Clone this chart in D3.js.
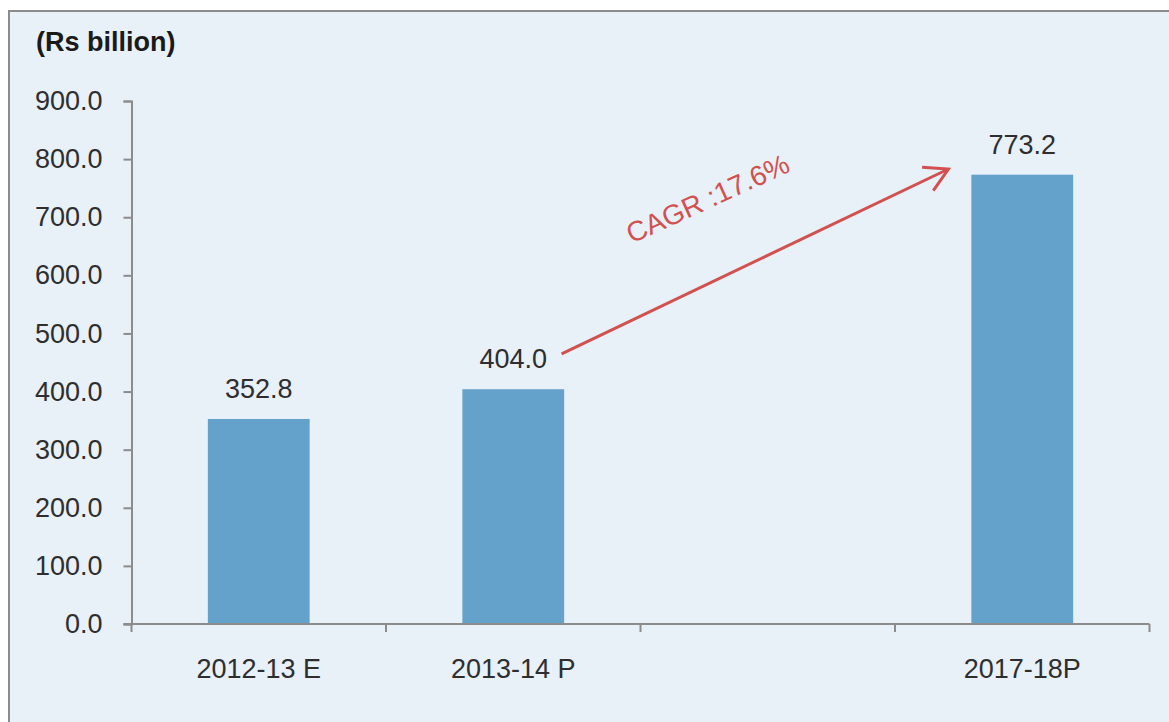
<!DOCTYPE html>
<html>
<head>
<meta charset="utf-8">
<script src="https://cdn.jsdelivr.net/npm/d3@7"></script>
<style>
  html, body { margin: 0; padding: 0; background: #ffffff; }
  svg { display: block; }
  text { font-family: "Liberation Sans", Arial, sans-serif; }
</style>
</head>
<body>
<svg id="chart" width="1169" height="722"></svg>
<script>
// ---- data ----
const categories = ["2012-13 E", "2013-14 P", "", "2017-18P"];
const values = [352.8, 404.0, null, 773.2];
const yTicks = [0, 100, 200, 300, 400, 500, 600, 700, 800, 900];
const unitLabel = "(Rs billion)";
const cagrLabel = "CAGR :17.6%";
// arrow annotation in data units (category position index, value)
const arrowFrom = [1.69, 465];
const arrowTo = [3.21, 783];
const cagrPos = [2.28, 717];

// ---- layout ----
const W = 1169, H = 722;
const plot = { left: 131.5, right: 1149.5, top: 101, bottom: 624 };
const colors = { bg: "#E8F0F8", border: "#8C8C8C", bar: "#65A2CB", axis: "#8C8C8C", text: "#2E2E2E", red: "#D2504D" };

const svg = d3.select("#chart");

svg.append("rect").attr("x", 0).attr("y", 0).attr("width", W).attr("height", H).attr("fill", "#fff");
svg.append("rect").attr("x", 9).attr("y", 11).attr("width", W + 10).attr("height", H + 10)
  .attr("fill", colors.bg).attr("stroke", colors.border).attr("stroke-width", 2);

const idx = d3.range(categories.length);
const x = d3.scaleBand().domain(idx).range([plot.left, plot.right]).paddingInner(0).paddingOuter(0);
const xPos = d3.scaleLinear().domain([0, categories.length]).range([plot.left, plot.right]);
const y = d3.scaleLinear().domain([0, 900]).range([plot.bottom, plot.top]);

// y axis
const yAxis = svg.append("g").attr("transform", `translate(${plot.left},0)`)
  .call(d3.axisLeft(y).tickValues(yTicks).tickSize(8).tickPadding(21).tickFormat(d => d.toFixed(1)));
yAxis.select(".domain").attr("stroke", colors.axis).attr("stroke-width", 2);
yAxis.selectAll(".tick line").attr("stroke", colors.axis).attr("stroke-width", 2);
yAxis.selectAll(".tick text").attr("fill", colors.text).style("font-size", "27px")
  .style("font-family", '"Liberation Sans", Arial, sans-serif');

// bars
const barW = x.bandwidth() * 0.4;
svg.append("g").selectAll("rect").data(idx.filter(i => values[i] != null)).join("rect")
  .attr("x", i => x(i) + (x.bandwidth() - barW) / 2)
  .attr("y", i => y(values[i]))
  .attr("width", barW)
  .attr("height", i => y(0) - y(values[i]))
  .attr("fill", colors.bar);

// x axis (domain line + boundary ticks)
const xg = svg.append("g");
xg.append("line").attr("x1", plot.left - 8).attr("x2", plot.right)
  .attr("y1", y(0)).attr("y2", y(0)).attr("stroke", colors.axis).attr("stroke-width", 2);
xg.selectAll("line.tk").data(d3.range(categories.length + 1)).join("line").attr("class", "tk")
  .attr("x1", d => xPos(d)).attr("x2", d => xPos(d))
  .attr("y1", y(0)).attr("y2", y(0) + 8).attr("stroke", colors.axis).attr("stroke-width", 2);
xg.selectAll("text").data(idx).join("text")
  .attr("x", i => x(i) + x.bandwidth() / 2).attr("y", y(0) + 54)
  .attr("text-anchor", "middle").attr("fill", colors.text).style("font-size", "27px")
  .text(i => categories[i]);

// value labels
svg.append("g").selectAll("text").data(idx.filter(i => values[i] != null)).join("text")
  .attr("x", i => x(i) + x.bandwidth() / 2).attr("y", i => y(values[i]) - 21)
  .attr("text-anchor", "middle").attr("fill", colors.text).style("font-size", "27px")
  .text(i => values[i].toFixed(1));

// unit label
svg.append("text").attr("x", 36).attr("y", 51).attr("fill", "#1a1a1a")
  .style("font-size", "27px").style("font-weight", "bold").text(unitLabel);

// arrow
const defs = svg.append("defs");
defs.append("marker").attr("id", "ah").attr("markerUnits", "userSpaceOnUse")
  .attr("viewBox", "-30 -20 34 40").attr("refX", 0).attr("refY", 0)
  .attr("markerWidth", 34).attr("markerHeight", 40).attr("orient", "auto")
  .append("path").attr("d", "M-23,-13 L0,0 L-23,13").attr("fill", "none")
  .attr("stroke", colors.red).attr("stroke-width", 3).attr("stroke-linejoin", "miter");

svg.append("line")
  .attr("x1", xPos(arrowFrom[0])).attr("y1", y(arrowFrom[1]))
  .attr("x2", xPos(arrowTo[0])).attr("y2", y(arrowTo[1]))
  .attr("stroke", colors.red).attr("stroke-width", 3).attr("marker-end", "url(#ah)");

const ang = Math.atan2(y(arrowTo[1]) - y(arrowFrom[1]), xPos(arrowTo[0]) - xPos(arrowFrom[0])) * 180 / Math.PI;
svg.append("text")
  .attr("transform", `translate(${xPos(cagrPos[0])},${y(cagrPos[1])}) rotate(${ang + 1})`)
  .attr("text-anchor", "middle").attr("fill", colors.red).style("font-size", "28px")
  .text(cagrLabel);
</script>
</body>
</html>
